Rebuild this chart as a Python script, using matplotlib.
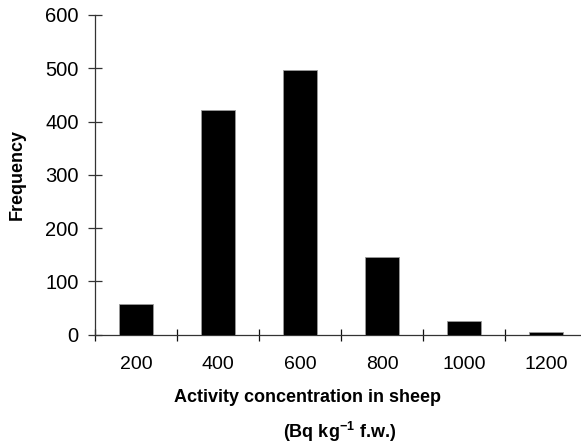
import matplotlib
matplotlib.use("Agg")
import matplotlib.pyplot as plt
from matplotlib.ticker import FixedLocator

plt.rcParams["font.family"] = ["Liberation Sans", "DejaVu Sans"]
plt.rcParams["mathtext.fontset"] = "custom"
plt.rcParams["mathtext.rm"] = "Liberation Sans"
plt.rcParams["mathtext.bf"] = "Liberation Sans:bold"

# Histogram of activity concentrations
categories = ["200", "400", "600", "800", "1000", "1200"]
frequency = [58, 422, 496, 145, 26, 5]
y_ticks = [0, 100, 200, 300, 400, 500, 600]

W, H = 581, 446
fig = plt.figure(figsize=(W / 100, H / 100), dpi=100)

left_px, right_px = 95, 581
top_px, bottom_px = 15, 334.7
ax = fig.add_axes([left_px / W, (H - bottom_px) / H,
                   (right_px - left_px) / W, (bottom_px - top_px) / H])

x = list(range(len(categories)))
ax.bar(x, frequency, width=0.42, color="black", edgecolor="#9a9a9a",
       linewidth=0.6, zorder=3)

step_px = 82.0
ax.set_xlim(-0.5, -0.5 + (right_px - left_px) / step_px)
ax.set_ylim(0, 600)

for side in ("top", "right"):
    ax.spines[side].set_visible(False)
for side in ("left", "bottom"):
    ax.spines[side].set_linewidth(0.9)
    ax.spines[side].set_color("#333333")

ax.set_yticks(y_ticks)
ax.set_yticklabels([str(v) for v in y_ticks], fontsize=14.5)
ax.tick_params(axis="y", direction="inout", length=9.5, width=0.9,
               color="#333333", pad=7)

ax.set_xticks(x)
ax.set_xticklabels(categories, fontsize=14)
ax.tick_params(axis="x", which="major", length=0, pad=15.5)
ax.xaxis.set_minor_locator(FixedLocator([i - 0.5 for i in x]))
ax.tick_params(axis="x", which="minor", direction="inout", length=9,
               width=0.9, color="#111111")

# Axis titles
fig.text(17 / W, 1 - 175 / H, "Frequency", rotation=90, fontsize=13,
         fontweight="bold", ha="center", va="center")
fig.text(307 / W, 1 - 398 / H, "Activity concentration in sheep",
         fontsize=13, fontweight="bold", ha="center", va="center")
fig.text(340 / W, 1 - 432 / H, r"(Bq kg$^{\mathbf{-1}}$ f.w.)",
         fontsize=13, fontweight="bold", ha="center", va="center")

fig.savefig("out.png", dpi=100)
